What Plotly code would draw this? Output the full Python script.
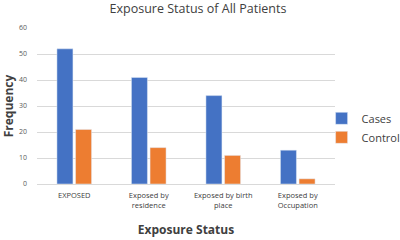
import plotly.graph_objects as go

categories = ["EXPOSED", "Exposed by<br>residence", "Exposed by birth<br>place", "Exposed by<br>Occupation"]
cases = [52, 41, 34, 13]
control = [21, 14, 11, 2]
y_ticks = [0, 10, 20, 30, 40, 50, 60]

fig = go.Figure()
fig.add_trace(go.Bar(name="Cases", x=categories, y=cases, marker_color="#4472C4"))
fig.add_trace(go.Bar(name="Control", x=categories, y=control, marker_color="#ED7D31"))

fig.update_layout(
    width=400, height=240,
    margin=dict(l=37, r=65, t=28, b=56, autoexpand=False),
    paper_bgcolor="white", plot_bgcolor="white",
    font=dict(family="Open Sans", color="#595959"),
    barmode="group", bargap=0.5, bargroupgap=0.14,
    title=dict(text="Exposure Status of All Patients", x=0.495, xanchor="center", y=0.962, yanchor="middle",
               font=dict(size=12.5, color="#404040")),
    legend=dict(x=0.955, y=0.36, xanchor="left", yanchor="middle", font=dict(size=11, color="#404040"),
                itemwidth=30, tracegroupgap=2, bgcolor="rgba(0,0,0,0)"),
    showlegend=True,
)
fig.update_xaxes(
    automargin=False,
    tickfont=dict(size=7.5, color="#404040"), ticklabelstandoff=4,
    title=dict(text="<b>Exposure Status</b>", font=dict(size=12, color="#404040"), standoff=16),
    showline=True, linecolor="#d9d9d9", ticks="",
)
fig.update_yaxes(
    automargin=False,
    range=[0, 60], tickvals=y_ticks, tickfont=dict(size=7, color="#595959"), ticklabelstandoff=9,
    gridcolor="#d9d9d9", zeroline=False,
    title=dict(text="<b>Frequency</b>", font=dict(size=12, color="#404040"), standoff=4),
)

fig.write_html("out.html", post_script="document.body.style.margin='0';",
               config={"displayModeBar": False})
